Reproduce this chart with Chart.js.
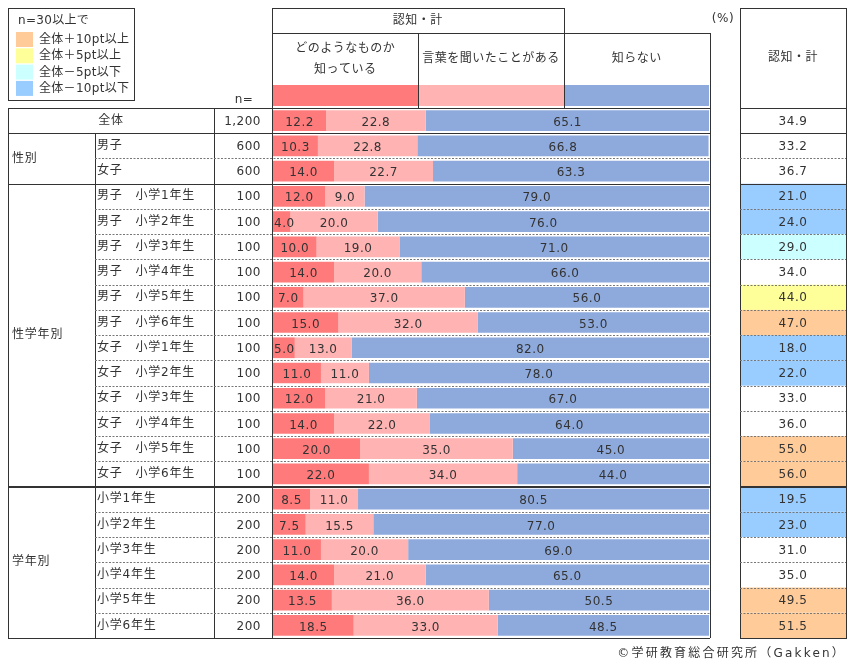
<!DOCTYPE html>
<html lang="ja">
<head>
<meta charset="utf-8">
<title>認知・計</title>
<script src="https://cdn.jsdelivr.net/npm/chart.js@4.4.1/dist/chart.umd.min.js"></script>
<style>
html, body { margin: 0; padding: 0; background: #fff; }
#wrap { position: relative; width: 855px; height: 668px; }
canvas { display: block; }
</style>
</head>
<body>
<div id="wrap"><canvas id="myChart" width="855" height="668"></canvas></div>
<script>
// data
var groups = ['全体', '性別', '性学年別', '学年別'];
var groupSizes = [1, 2, 12, 6];
var rowLabels = ['全体', '男子', '女子',
    '男子　小学1年生', '男子　小学2年生', '男子　小学3年生', '男子　小学4年生', '男子　小学5年生', '男子　小学6年生',
    '女子　小学1年生', '女子　小学2年生', '女子　小学3年生', '女子　小学4年生', '女子　小学5年生', '女子　小学6年生',
    '小学1年生', '小学2年生', '小学3年生', '小学4年生', '小学5年生', '小学6年生'];
var nValues = ['1,200', '600', '600',
    '100', '100', '100', '100', '100', '100', '100', '100', '100', '100', '100', '100',
    '200', '200', '200', '200', '200', '200'];
var knowWell = [12.2, 10.3, 14.0, 12.0, 4.0, 10.0, 14.0, 7.0, 15.0, 5.0, 11.0, 12.0, 14.0, 20.0, 22.0, 8.5, 7.5, 11.0, 14.0, 13.5, 18.5];
var heardOf = [22.8, 22.8, 22.7, 9.0, 20.0, 19.0, 20.0, 37.0, 32.0, 13.0, 11.0, 21.0, 22.0, 35.0, 34.0, 11.0, 15.5, 20.0, 21.0, 36.0, 33.0];
var unknown = [65.1, 66.8, 63.3, 79.0, 76.0, 71.0, 66.0, 56.0, 53.0, 82.0, 78.0, 67.0, 64.0, 45.0, 44.0, 80.5, 77.0, 69.0, 65.0, 50.5, 48.5];
var awareTotal = [34.9, 33.2, 36.7, 21.0, 24.0, 29.0, 34.0, 44.0, 47.0, 18.0, 22.0, 33.0, 36.0, 55.0, 56.0, 19.5, 23.0, 31.0, 35.0, 49.5, 51.5];
var seriesNames = [['どのようなものか', '知っている'], ['言葉を聞いたことがある'], ['知らない']];
var legendLabels = ['全体＋10pt以上', '全体＋5pt以上', '全体－5pt以下', '全体－10pt以下'];

var seriesColors = ['#ff7b7b', '#ffb3b3', '#8eaadc'];
var markColors = ['#ffcc99', '#ffff99', '#ccffff', '#99ccff'];
var FONT = '"DejaVu Sans", "Noto Sans CJK JP", sans-serif';
var INK = '#333';

function markColor(v) {
    var d = v - awareTotal[0];
    if (d >= 10) return markColors[0];
    if (d >= 5) return markColors[1];
    if (d <= -10) return markColors[3];
    if (d <= -5) return markColors[2];
    return null;
}

function text(ctx, s, x, y, align, spacing) {
    ctx.font = '12px ' + FONT;
    ctx.letterSpacing = (spacing || 0) + 'px';
    ctx.fillStyle = INK;
    ctx.textAlign = align || 'left';
    ctx.textBaseline = 'middle';
    ctx.fillText(s, x, y);
}

function hline(ctx, x1, x2, y, dashed, w) {
    ctx.save();
    ctx.lineWidth = w || 1;
    ctx.strokeStyle = dashed ? '#777' : '#333';
    ctx.setLineDash(dashed ? [2, 1.5] : []);
    var yy = w === 2 ? Math.round(y) : Math.round(y) + 0.5;
    ctx.beginPath();
    ctx.moveTo(x1, yy);
    ctx.lineTo(x2, yy);
    ctx.stroke();
    ctx.restore();
}

function vline(ctx, x, y1, y2) {
    ctx.save();
    ctx.lineWidth = 1;
    ctx.strokeStyle = '#333';
    ctx.beginPath();
    ctx.moveTo(Math.round(x) + 0.5, y1);
    ctx.lineTo(Math.round(x) + 0.5, y2);
    ctx.stroke();
    ctx.restore();
}

var colGroup = 8, colSub = 95, colN = 214, totL = 740, totR = 846;

var tablePlugin = {
    id: 'table',
    beforeDatasetsDraw: function (chart) {
        var ctx = chart.ctx, x = chart.scales.x, y = chart.scales.y;
        var h = y.getPixelForValue(1) - y.getPixelForValue(0);
        ctx.save();
        // header key bar
        for (var s = 0; s < 3; s++) {
            var a = x.getPixelForValue(100 * s / 3), b = x.getPixelForValue(100 * (s + 1) / 3);
            ctx.fillStyle = seriesColors[s];
            ctx.fillRect(a, 85, b - a, 21);
        }
        // highlighted total cells
        awareTotal.forEach(function (v, i) {
            var c = i > 0 ? markColor(v) : null;
            if (!c) return;
            ctx.fillStyle = c;
            var top = y.getPixelForValue(i) - h / 2;
            ctx.fillRect(totL, top, totR - totL, h);
        });
        ctx.restore();
    },
    afterDatasetsDraw: function (chart) {
        var ctx = chart.ctx;
        ctx.save();
        chart.data.datasets.forEach(function (ds, d) {
            chart.getDatasetMeta(d).data.forEach(function (el, i) {
                var w0 = Math.min(el.base, el.x), w1 = Math.max(el.base, el.x);
                var s = ds.data[i].toFixed(1);
                ctx.font = '12px ' + FONT;
                ctx.letterSpacing = '0.5px';
                var tw = ctx.measureText(s).width;
                var cx = Math.max((w0 + w1) / 2, w0 + tw / 2 + 1);
                text(ctx, s, cx, el.y + 2, 'center', 0.5);
            });
        });
        ctx.restore();
    },
    afterDraw: function (chart) {
        var ctx = chart.ctx, x = chart.scales.x, y = chart.scales.y;
        var area = chart.chartArea;
        var h = y.getPixelForValue(1) - y.getPixelForValue(0);
        var edge = function (i) { return y.getPixelForValue(0) - h / 2 + i * h; };
        var top = edge(0), bottom = edge(rowLabels.length);
        var cL = area.left - 1, cR = area.right + 1;
        var x1 = x.getPixelForValue(100 / 3), x2 = x.getPixelForValue(200 / 3);
        ctx.save();

        // top-left legend box
        ctx.strokeStyle = '#333';
        ctx.lineWidth = 1;
        ctx.strokeRect(8.5, 8.5, 126, 92);
        text(ctx, 'n=30以上で', 18, 21, 'left', 0.3);
        legendLabels.forEach(function (l, k) {
            ctx.fillStyle = markColors[k];
            ctx.fillRect(16, 32 + k * 16.3, 17, 15);
            text(ctx, l, 39, 40 + k * 16.3, 'left', 0.3);
        });

        // column header
        ctx.strokeRect(Math.round(cL) + 0.5, 8.5, Math.round(x2) - Math.round(cL), 25);
        text(ctx, '認知・計', (cL + x2) / 2, 21, 'center', 0.5);
        hline(ctx, cL, cR, 33);
        vline(ctx, x1, 33, top);
        vline(ctx, x2, 33, top);
        vline(ctx, cR, 33, bottom);
        var hx = [(cL + x1) / 2, (x1 + x2) / 2, (x2 + cR) / 2];
        seriesNames.forEach(function (lines, s) {
            lines.forEach(function (l, k) {
                var yy = 59 + (k - (lines.length - 1) / 2) * 21;
                text(ctx, l, hx[s], yy, 'center', 0.5);
            });
        });
        text(ctx, '(%)', 723, 19, 'center', 0.5);
        text(ctx, 'n=', 244, 100, 'center', 0.5);

        // right total column
        ctx.strokeRect(totL + 0.5, 8.5, totR - totL, Math.round(bottom) - 8);
        text(ctx, '認知・計', (totL + totR) / 2, 58, 'center', 0.5);
        awareTotal.forEach(function (v, i) {
            text(ctx, v.toFixed(1), (totL + totR) / 2, y.getPixelForValue(i) + 1, 'center', 0.6);
        });

        // table frame
        vline(ctx, colGroup, top, bottom);
        vline(ctx, colN, top, bottom);
        vline(ctx, cL, 8, bottom);
        vline(ctx, colSub, edge(1), bottom);
        hline(ctx, colGroup, cR, top);
        hline(ctx, totL, totR, top);
        hline(ctx, colGroup, cR, bottom);

        var start = 0;
        groupSizes.forEach(function (size, g) {
            if (g > 0) {
                var w = g === groupSizes.length - 1 ? 2 : 1;
                hline(ctx, colGroup, cR, edge(start), false, w);
                hline(ctx, totL, totR, edge(start), false, w);
            }
            for (var r = 1; r < size; r++) {
                hline(ctx, colSub, cR, edge(start + r), true);
                hline(ctx, totL, totR, edge(start + r), true);
            }
            var mid = (edge(start) + edge(start + size)) / 2;
            if (size === 1) {
                text(ctx, groups[g], (colGroup + colN) / 2, mid, 'center', 0.8);
            } else {
                text(ctx, groups[g], 12, mid, 'left', 0.8);
                for (var j = 0; j < size; j++) {
                    text(ctx, rowLabels[start + j], 97, y.getPixelForValue(start + j), 'left', 0.8);
                }
            }
            start += size;
        });
        nValues.forEach(function (n, i) {
            text(ctx, n, 261, y.getPixelForValue(i) + 1, 'right', 0.5);
        });

        text(ctx, '©学研教育総合研究所（Gakken）', 846, 654, 'right', 2.2);
        ctx.restore();
    }
};

var ctx = document.getElementById('myChart').getContext('2d');
var myChart = new Chart(ctx, {
    type: 'bar',
    data: {
        labels: rowLabels,
        datasets: [
            { label: seriesNames[0].join(''), data: knowWell, backgroundColor: seriesColors[0] },
            { label: seriesNames[1].join(''), data: heardOf, backgroundColor: seriesColors[1] },
            { label: seriesNames[2].join(''), data: unknown, backgroundColor: seriesColors[2] }
        ]
    },
    options: {
        indexAxis: 'y',
        responsive: false,
        animation: false,
        barPercentage: 0.82,
        categoryPercentage: 1,
        layout: { padding: { left: 273, right: 146, top: 108, bottom: 30 } },
        scales: {
            x: { stacked: true, min: 0, max: 100, display: false },
            y: { stacked: true, display: false }
        },
        plugins: {
            legend: { display: false },
            tooltip: { enabled: false }
        }
    },
    plugins: [tablePlugin]
});
</script>
</body>
</html>
